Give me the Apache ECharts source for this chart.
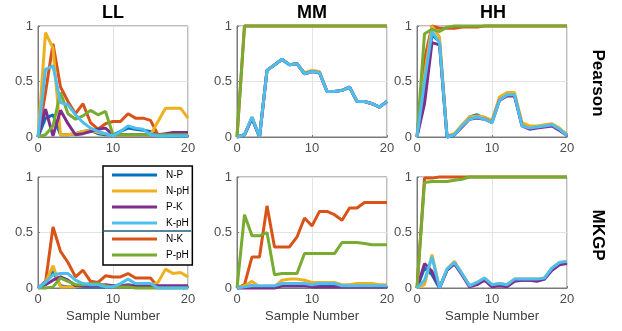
<!DOCTYPE html>
<html>
<head>
<meta charset="utf-8">
<script src="https://cdn.jsdelivr.net/npm/echarts@6/dist/echarts.min.js"></script>
<style>
  html, body { margin: 0; padding: 0; background: #fff; }
  #chart { width: 622px; height: 331px; }
</style>
</head>
<body>
<div id="chart"></div>
<script>
// sample numbers on the x axis
var samples = [0,1,2,3,4,5,6,7,8,9,10,11,12,13,14,15,16,17,18,19,20];
var pairNames = ['N-P', 'N-K', 'N-pH', 'P-K', 'P-pH', 'K-pH'];   // plot order
var legendOrder = ['N-P', 'N-pH', 'P-K', 'K-pH', 'N-K', 'P-pH'];
var pairColors = ['#0072BD', '#D95319', '#EDB120', '#7E2F8E', '#77AC30', '#4DBEEE'];
var colTitles = ['LL', 'MM', 'HH'];
var rowTitles = ['Pearson', 'MKGP'];

// Pearson, LL
var pLL_NP  = [0,0.17,0.2,0.02,0.02,0.03,0.05,0.06,0.03,0.02,0.02,0.05,0.08,0.07,0.06,0.05,0.02,0.01,0.01,0.01,0.01];
var pLL_NK  = [0,0.4,0.84,0.45,0.32,0.21,0.3,0.13,0.07,0.12,0.14,0.14,0.21,0.17,0.17,0.15,0.02,0.02,0.02,0.02,0.02];
var pLL_NpH = [0,0.94,0.8,0.02,0.02,0.03,0.05,0.06,0.04,0.03,0.02,0.02,0.02,0.02,0.02,0.02,0.14,0.26,0.26,0.26,0.17];
var pLL_PK  = [0,0.25,0.01,0.24,0.12,0.02,0.03,0.05,0.07,0.08,0.02,0.02,0.02,0.02,0.02,0.02,0.02,0.03,0.04,0.04,0.04];
var pLL_PpH = [0,0.02,0.1,0.4,0.21,0.16,0.19,0.24,0.2,0.23,0.02,0.02,0.02,0.02,0.02,0.02,0.02,0.02,0.02,0.02,0.02];
var pLL_KpH = [0,0.61,0.64,0.31,0.29,0.2,0.13,0.08,0.05,0.03,0.01,0.05,0.1,0.08,0.07,0.02,0.01,0.01,0.01,0.01,0.01];

// Pearson, MM
var pMM_NP  = [0,0.02,0.17,0,0.6,0.65,0.7,0.65,0.66,0.57,0.59,0.58,0.41,0.41,0.42,0.45,0.32,0.32,0.3,0.27,0.32];
var pMM_NK  = [0,1,1,1,1,1,1,1,1,1,1,1,1,1,1,1,1,1,1,1,1];
var pMM_NpH = [0,0.02,0.18,0,0.6,0.65,0.7,0.65,0.66,0.58,0.6,0.59,0.41,0.41,0.42,0.45,0.32,0.32,0.3,0.27,0.32];
var pMM_PK  = [0,0.02,0.17,0,0.6,0.65,0.7,0.65,0.66,0.57,0.59,0.58,0.41,0.41,0.42,0.45,0.32,0.32,0.3,0.27,0.32];
var pMM_PpH = [0,1,1,1,1,1,1,1,1,1,1,1,1,1,1,1,1,1,1,1,1];
var pMM_KpH = [0,0.02,0.18,0,0.6,0.65,0.7,0.65,0.66,0.57,0.59,0.58,0.41,0.41,0.42,0.45,0.32,0.32,0.3,0.27,0.32];

// Pearson, HH
var pHH_NP  = [0,0.45,0.92,0.86,0,0.02,0.1,0.18,0.2,0.17,0.14,0.34,0.38,0.38,0.11,0.08,0.09,0.1,0.11,0.07,0.02];
var pHH_NK  = [0,0.7,1,0.98,0.98,0.98,0.99,0.99,0.99,1,1,1,1,1,1,1,1,1,1,1,1];
var pHH_NpH = [0,0.55,1,0.9,0.01,0.03,0.11,0.18,0.19,0.18,0.15,0.36,0.4,0.4,0.13,0.1,0.1,0.11,0.12,0.08,0.02];
var pHH_PK  = [0,0.3,0.85,0.83,0,0.02,0.09,0.16,0.17,0.16,0.13,0.33,0.37,0.37,0.1,0.07,0.08,0.09,0.1,0.06,0.01];
var pHH_PpH = [0,0.93,0.97,0.95,0.99,1,1,1,1,1,1,1,1,1,1,1,1,1,1,1,1];
var pHH_KpH = [0,0.5,0.95,0.85,0,0.02,0.1,0.16,0.18,0.16,0.13,0.33,0.38,0.38,0.1,0.08,0.09,0.1,0.11,0.07,0.01];

// MKGP, LL
var mLL_NP  = [0,0.06,0.15,0.02,0.01,0.01,0.01,0.01,0.01,0.01,0.01,0.02,0.03,0.02,0.02,0.01,0.01,0.01,0.01,0.01,0.01];
var mLL_NK  = [0,0.05,0.55,0.33,0.23,0.1,0.16,0.06,0.05,0.11,0.1,0.1,0.13,0.09,0.09,0.09,0.01,0.01,0.01,0.01,0.01];
var mLL_NpH = [0,0.05,0.2,0.01,0.01,0.01,0.02,0.02,0.02,0.02,0.02,0.02,0.02,0.02,0.02,0.02,0.05,0.17,0.13,0.14,0.1];
var mLL_PK  = [0,0.03,0.07,0.1,0.07,0.02,0.02,0.02,0.02,0.03,0.02,0.02,0.02,0.02,0.02,0.02,0.02,0.02,0.02,0.02,0.02];
var mLL_PpH = [0,0,0.01,0.09,0.06,0.03,0.03,0.04,0.04,0.02,0.01,0.01,0.01,0,0,0,0,0,0,0,0];
var mLL_KpH = [0,0.05,0.12,0.13,0.13,0.07,0.04,0.03,0.03,0.01,0.01,0.04,0.08,0.04,0.04,0.04,0,0,0,0,0];

// MKGP, MM
var mMM_NP  = [0,0.01,0.02,0.01,0.01,0.01,0.02,0.02,0.02,0.02,0.02,0.02,0.02,0.02,0.02,0.02,0.02,0.02,0.02,0.02,0.02];
var mMM_NK  = [0,0.03,0.28,0.28,0.74,0.37,0.37,0.37,0.46,0.63,0.56,0.69,0.69,0.66,0.61,0.72,0.72,0.77,0.77,0.77,0.77];
var mMM_NpH = [0,0.02,0.06,0.01,0.01,0.01,0.07,0.08,0.08,0.07,0.05,0.05,0.05,0.05,0.03,0.03,0.04,0.04,0.04,0.03,0.03];
var mMM_PK  = [0,0,0,0,0,0,0.02,0.02,0.02,0.02,0.01,0.01,0.01,0.01,0.01,0.01,0.01,0.01,0.01,0.01,0.01];
var mMM_PpH = [0,0.66,0.47,0.47,0.5,0.12,0.13,0.13,0.13,0.31,0.31,0.31,0.31,0.31,0.41,0.41,0.41,0.4,0.39,0.39,0.39];
var mMM_KpH = [0,0.01,0.02,0.02,0.02,0.02,0.04,0.04,0.04,0.04,0.03,0.04,0.04,0.04,0.02,0.02,0.02,0.02,0.02,0.02,0.02];

// MKGP, HH
var mHH_NP  = [0,0.18,0.12,0,0.16,0.22,0.12,0.02,0.04,0.08,0.02,0.03,0.02,0.07,0.07,0.07,0.07,0.08,0.17,0.22,0.23];
var mHH_NK  = [0,0.99,0.99,1,1,1,1,1,1,1,1,1,1,1,1,1,1,1,1,1,1];
var mHH_NpH = [0,0.03,0.3,0,0.17,0.24,0.13,0.02,0.05,0.09,0.03,0.04,0.03,0.08,0.08,0.08,0.08,0.09,0.18,0.23,0.24];
var mHH_PK  = [0,0.22,0.15,0,0.16,0.22,0.12,0.01,0.03,0.07,0.01,0.02,0.01,0.06,0.07,0.07,0.06,0.08,0.16,0.21,0.22];
var mHH_PpH = [0,0.95,0.96,0.96,0.96,0.97,0.98,1,1,1,1,1,1,1,1,1,1,1,1,1,1];
var mHH_KpH = [0,0.07,0.28,0,0.17,0.23,0.13,0.02,0.05,0.09,0.03,0.04,0.03,0.08,0.08,0.08,0.08,0.09,0.18,0.23,0.24];

// panels in reading order, each list follows pairNames
var panels = [
  [pLL_NP, pLL_NK, pLL_NpH, pLL_PK, pLL_PpH, pLL_KpH],
  [pMM_NP, pMM_NK, pMM_NpH, pMM_PK, pMM_PpH, pMM_KpH],
  [pHH_NP, pHH_NK, pHH_NpH, pHH_PK, pHH_PpH, pHH_KpH],
  [mLL_NP, mLL_NK, mLL_NpH, mLL_PK, mLL_PpH, mLL_KpH],
  [mMM_NP, mMM_NK, mMM_NpH, mMM_PK, mMM_PpH, mMM_KpH],
  [mHH_NP, mHH_NK, mHH_NpH, mHH_PK, mHH_PpH, mHH_KpH]
];

var chart = echarts.init(document.getElementById('chart'));

var lefts = [38, 237, 417];
var tops = [26, 177];
var boxColor = '#7a7a7a';
var font = 'Liberation Sans, Arial, sans-serif';

var grids = [], xAxes = [], yAxes = [], series = [];
panels.forEach(function (lines, i) {
  var row = Math.floor(i / 3), col = i % 3;
  grids.push({
    left: lefts[col], top: tops[row], width: 150, height: 111,
    show: true, borderColor: boxColor, borderWidth: 1, backgroundColor: '#fff'
  });
  xAxes.push({
    gridIndex: i, type: 'value', min: 0, max: 20, interval: 10,
    name: row === 1 ? 'Sample Number' : '',
    nameLocation: 'middle', nameGap: 22,
    nameTextStyle: { fontSize: 13, color: '#404040', fontFamily: font },
    axisLine: { show: true, onZero: false, lineStyle: { color: boxColor } },
    axisTick: { show: true, inside: true, length: 2, lineStyle: { color: boxColor } },
    axisLabel: { fontSize: 13, color: '#4d4d4d', margin: 5, fontFamily: font },
    splitLine: { show: true, lineStyle: { color: '#e3e3e3' } }
  });
  yAxes.push({
    gridIndex: i, type: 'value', min: 0, max: 1, interval: 0.5,
    axisLine: { show: true, lineStyle: { color: boxColor } },
    axisTick: { show: true, inside: true, length: 2, lineStyle: { color: boxColor } },
    axisLabel: { fontSize: 13, color: '#4d4d4d', margin: 5, fontFamily: font },
    splitLine: { show: true, lineStyle: { color: '#e3e3e3' } }
  });
  lines.forEach(function (vals, k) {
    series.push({
      name: pairNames[k], type: 'line', xAxisIndex: i, yAxisIndex: i,
      data: samples.map(function (s, j) { return [s, vals[j]]; }),
      symbol: 'none', clip: false,
      color: pairColors[k],
      lineStyle: { width: 3, color: pairColors[k] }
    });
  });
});

var graphics = [];
var colCenters = [113, 312, 493];
colTitles.forEach(function (t, c) {
  graphics.push({
    type: 'text', x: colCenters[c], y: 13,
    style: { text: t, font: 'bold 18px ' + font, fill: '#000', align: 'center', verticalAlign: 'middle' }
  });
});
var rowCenters = [83, 235];
rowTitles.forEach(function (t, r) {
  graphics.push({
    type: 'text', x: 598, y: rowCenters[r], rotation: -Math.PI / 2,
    style: { text: t, font: 'bold 17px ' + font, fill: '#000', align: 'center', verticalAlign: 'middle' }
  });
});
// separator between the two legend groups
graphics.push({
  type: 'line', z: 100,
  shape: { x1: 103, y1: 231, x2: 191, y2: 231 },
  style: { stroke: '#1f5c7c', lineWidth: 1.5 }
});

chart.setOption({
  animation: false,
  grid: grids,
  xAxis: xAxes,
  yAxis: yAxes,
  legend: {
    data: legendOrder,
    orient: 'vertical',
    left: 103, top: 166,
    padding: [2, 3, 3, 9],
    itemGap: 2,
    itemWidth: 45,
    itemHeight: 3,
    icon: 'rect',
    backgroundColor: '#fff',
    borderColor: '#000',
    borderWidth: 1.5,
    textStyle: { fontSize: 10, color: '#000', lineHeight: 14, fontFamily: font, padding: [0, 0, 0, 4] }
  },
  graphic: graphics,
  series: series
});
</script>
</body>
</html>
